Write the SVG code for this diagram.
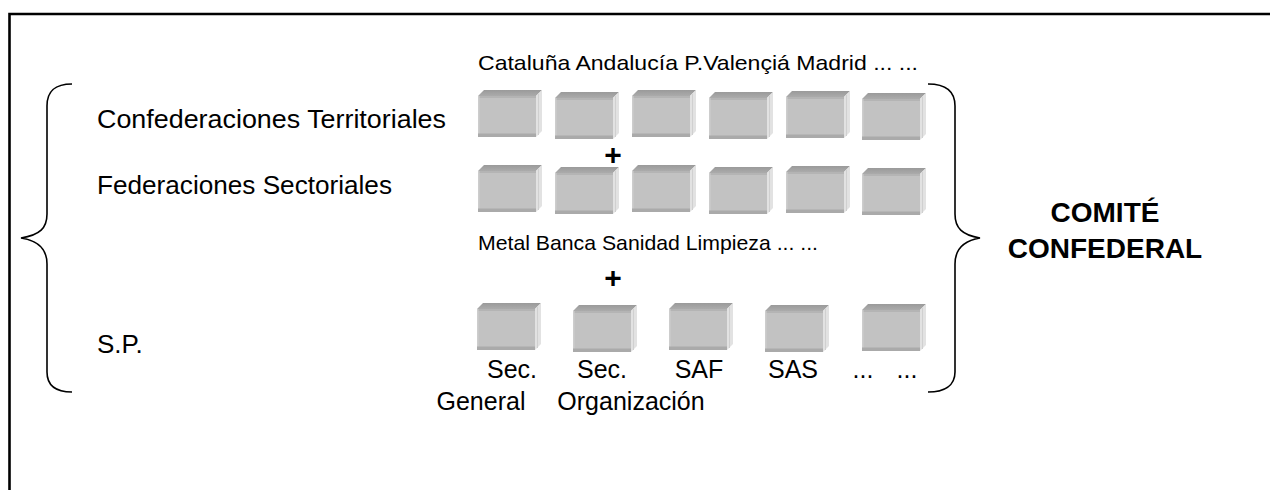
<svg xmlns="http://www.w3.org/2000/svg" width="1270" height="490" viewBox="0 0 1270 490">
<style>
.t{font-family:"Liberation Sans",Arial,sans-serif;fill:#000}
.s{font-size:21px}
.m{font-size:26px}
.l{font-size:25px}
.b{font-size:28px;font-weight:bold}
.p{font-size:30px;font-weight:bold}
.br{fill:none;stroke:#000;stroke-width:1.6}
</style>
<defs>
<linearGradient id="topg" x1="0" y1="0" x2="0" y2="1">
<stop offset="0" stop-color="#9a9a9a"/><stop offset="1" stop-color="#ababab"/>
</linearGradient>
<g id="box">
<polygon points="0,6 6,0 64,0 58,6" fill="url(#topg)"/>
<polygon points="58,6 64,0 64,41 58,47" fill="#e2e2e2"/>
<line x1="60.5" y1="4" x2="60.5" y2="45" stroke="#d0d0d0" stroke-width="1"/>
<rect x="0" y="6" width="58" height="41" fill="#c2c2c2"/>
<rect x="0" y="6" width="58" height="2" fill="#b4b4b4"/>
<rect x="0" y="6" width="1.5" height="41" fill="#cdcdcd"/>
<rect x="0" y="43.5" width="58" height="3.5" fill="#aaaaaa"/>
</g>
</defs>
<rect width="1270" height="490" fill="#fff"/>
<path d="M9.5,490 L9.5,14 L1270,14" fill="none" stroke="#000" stroke-width="2.6"/>

<g id="connectors">
<path class="br" d="M72,84 C56,84 47,90 47,106 L47,214 C47,228 40,235 21,238 C40,241 47,250 47,264 L47,372 C47,386 56,392 72,392"/>
<path class="br" d="M928,84 C944,84 955,90 955,106 L955,214 C955,228 962,235 980,238 C962,241 955,250 955,264 L955,372 C955,386 944,392 928,392"/>
</g>

<g id="label-territoriales"><text class="t m" x="97" y="128" textLength="349" lengthAdjust="spacingAndGlyphs">Confederaciones Territoriales</text></g>
<g id="label-sectoriales"><text class="t m" x="97" y="194" textLength="295" lengthAdjust="spacingAndGlyphs">Federaciones Sectoriales</text></g>
<g id="label-sp"><text class="t m" x="97" y="353">S.P.</text></g>
<g id="label-regiones"><text class="t s" x="478" y="70" textLength="440" lengthAdjust="spacingAndGlyphs">Cataluña Andalucía P.Valençiá Madrid ... ...</text></g>
<g id="label-sectores"><text class="t s" x="478" y="250" textLength="340" lengthAdjust="spacingAndGlyphs">Metal Banca Sanidad Limpieza ... ...</text></g>
<g id="plus1"><text class="t p" x="613" y="165" text-anchor="middle">+</text></g>
<g id="plus2"><text class="t p" x="613" y="288" text-anchor="middle">+</text></g>

<g id="row-territoriales">
<use href="#box" x="478" y="90"/>
<use href="#box" x="555" y="92"/>
<use href="#box" x="632" y="90"/>
<use href="#box" x="709" y="92"/>
<use href="#box" x="786" y="91"/>
<use href="#box" x="862" y="93"/>
</g>
<g id="row-sectoriales">
<use href="#box" x="478" y="165"/>
<use href="#box" x="555" y="167"/>
<use href="#box" x="632" y="165"/>
<use href="#box" x="709" y="167"/>
<use href="#box" x="786" y="166"/>
<use href="#box" x="862" y="168"/>
</g>
<g id="row-sp">
<g id="sec-general"><use href="#box" x="477" y="303"/>
<text class="t l" x="512" y="378" text-anchor="middle">Sec.</text>
<text class="t l" x="481" y="410" text-anchor="middle">General</text></g>
<g id="sec-organizacion"><use href="#box" x="573" y="305"/>
<text class="t l" x="602" y="378" text-anchor="middle">Sec.</text>
<text class="t l" x="631" y="410" text-anchor="middle">Organización</text></g>
<g id="saf"><use href="#box" x="669" y="303"/>
<text class="t l" x="699" y="378" text-anchor="middle">SAF</text></g>
<g id="sas"><use href="#box" x="765" y="305"/>
<text class="t l" x="793" y="378" text-anchor="middle">SAS</text></g>
<g id="otros"><use href="#box" x="862" y="304"/>
<text class="t l" x="863" y="378" text-anchor="middle">...</text>
<text class="t l" x="907" y="378" text-anchor="middle">...</text></g>
</g>

<g id="comite">
<text class="t b" x="1105" y="222" text-anchor="middle">COMITÉ</text>
<text class="t b" x="1105" y="258" text-anchor="middle">CONFEDERAL</text>
</g>
</svg>
